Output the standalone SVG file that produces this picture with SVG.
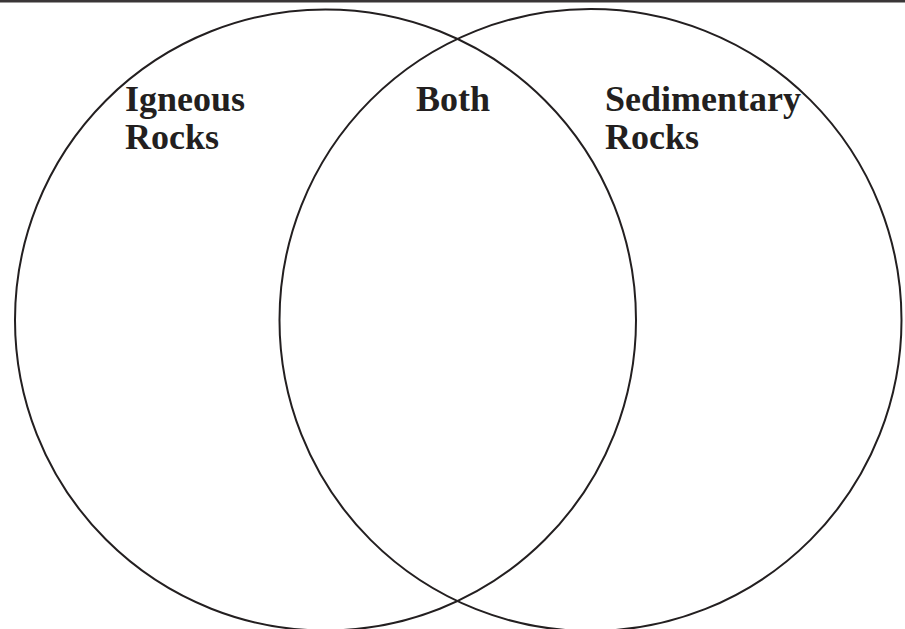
<svg xmlns="http://www.w3.org/2000/svg" width="905" height="629" viewBox="0 0 905 629">
<style>
.c{fill:none;stroke:#231f20;stroke-width:2}
.t{font-family:"Liberation Serif","Times New Roman",serif;font-weight:bold;font-size:36px;fill:#231f20}
</style>
<rect width="905" height="629" fill="#fff"/>
<line x1="0" y1="1.2" x2="905" y2="1.2" stroke="#3a3637" stroke-width="2.4"/>
<g id="igneous"><circle class="c" cx="325.5" cy="320" r="310.5"/>
<text class="t" x="125" y="111">Igneous</text><text class="t" x="125" y="149">Rocks</text></g>
<g id="sedimentary"><circle class="c" cx="590.5" cy="320" r="311"/>
<text class="t" x="605" y="111">Sedimentary</text><text class="t" x="605" y="149">Rocks</text></g>
<g id="both"><text class="t" x="416" y="111">Both</text></g>
<g id="connectors"></g>
</svg>
